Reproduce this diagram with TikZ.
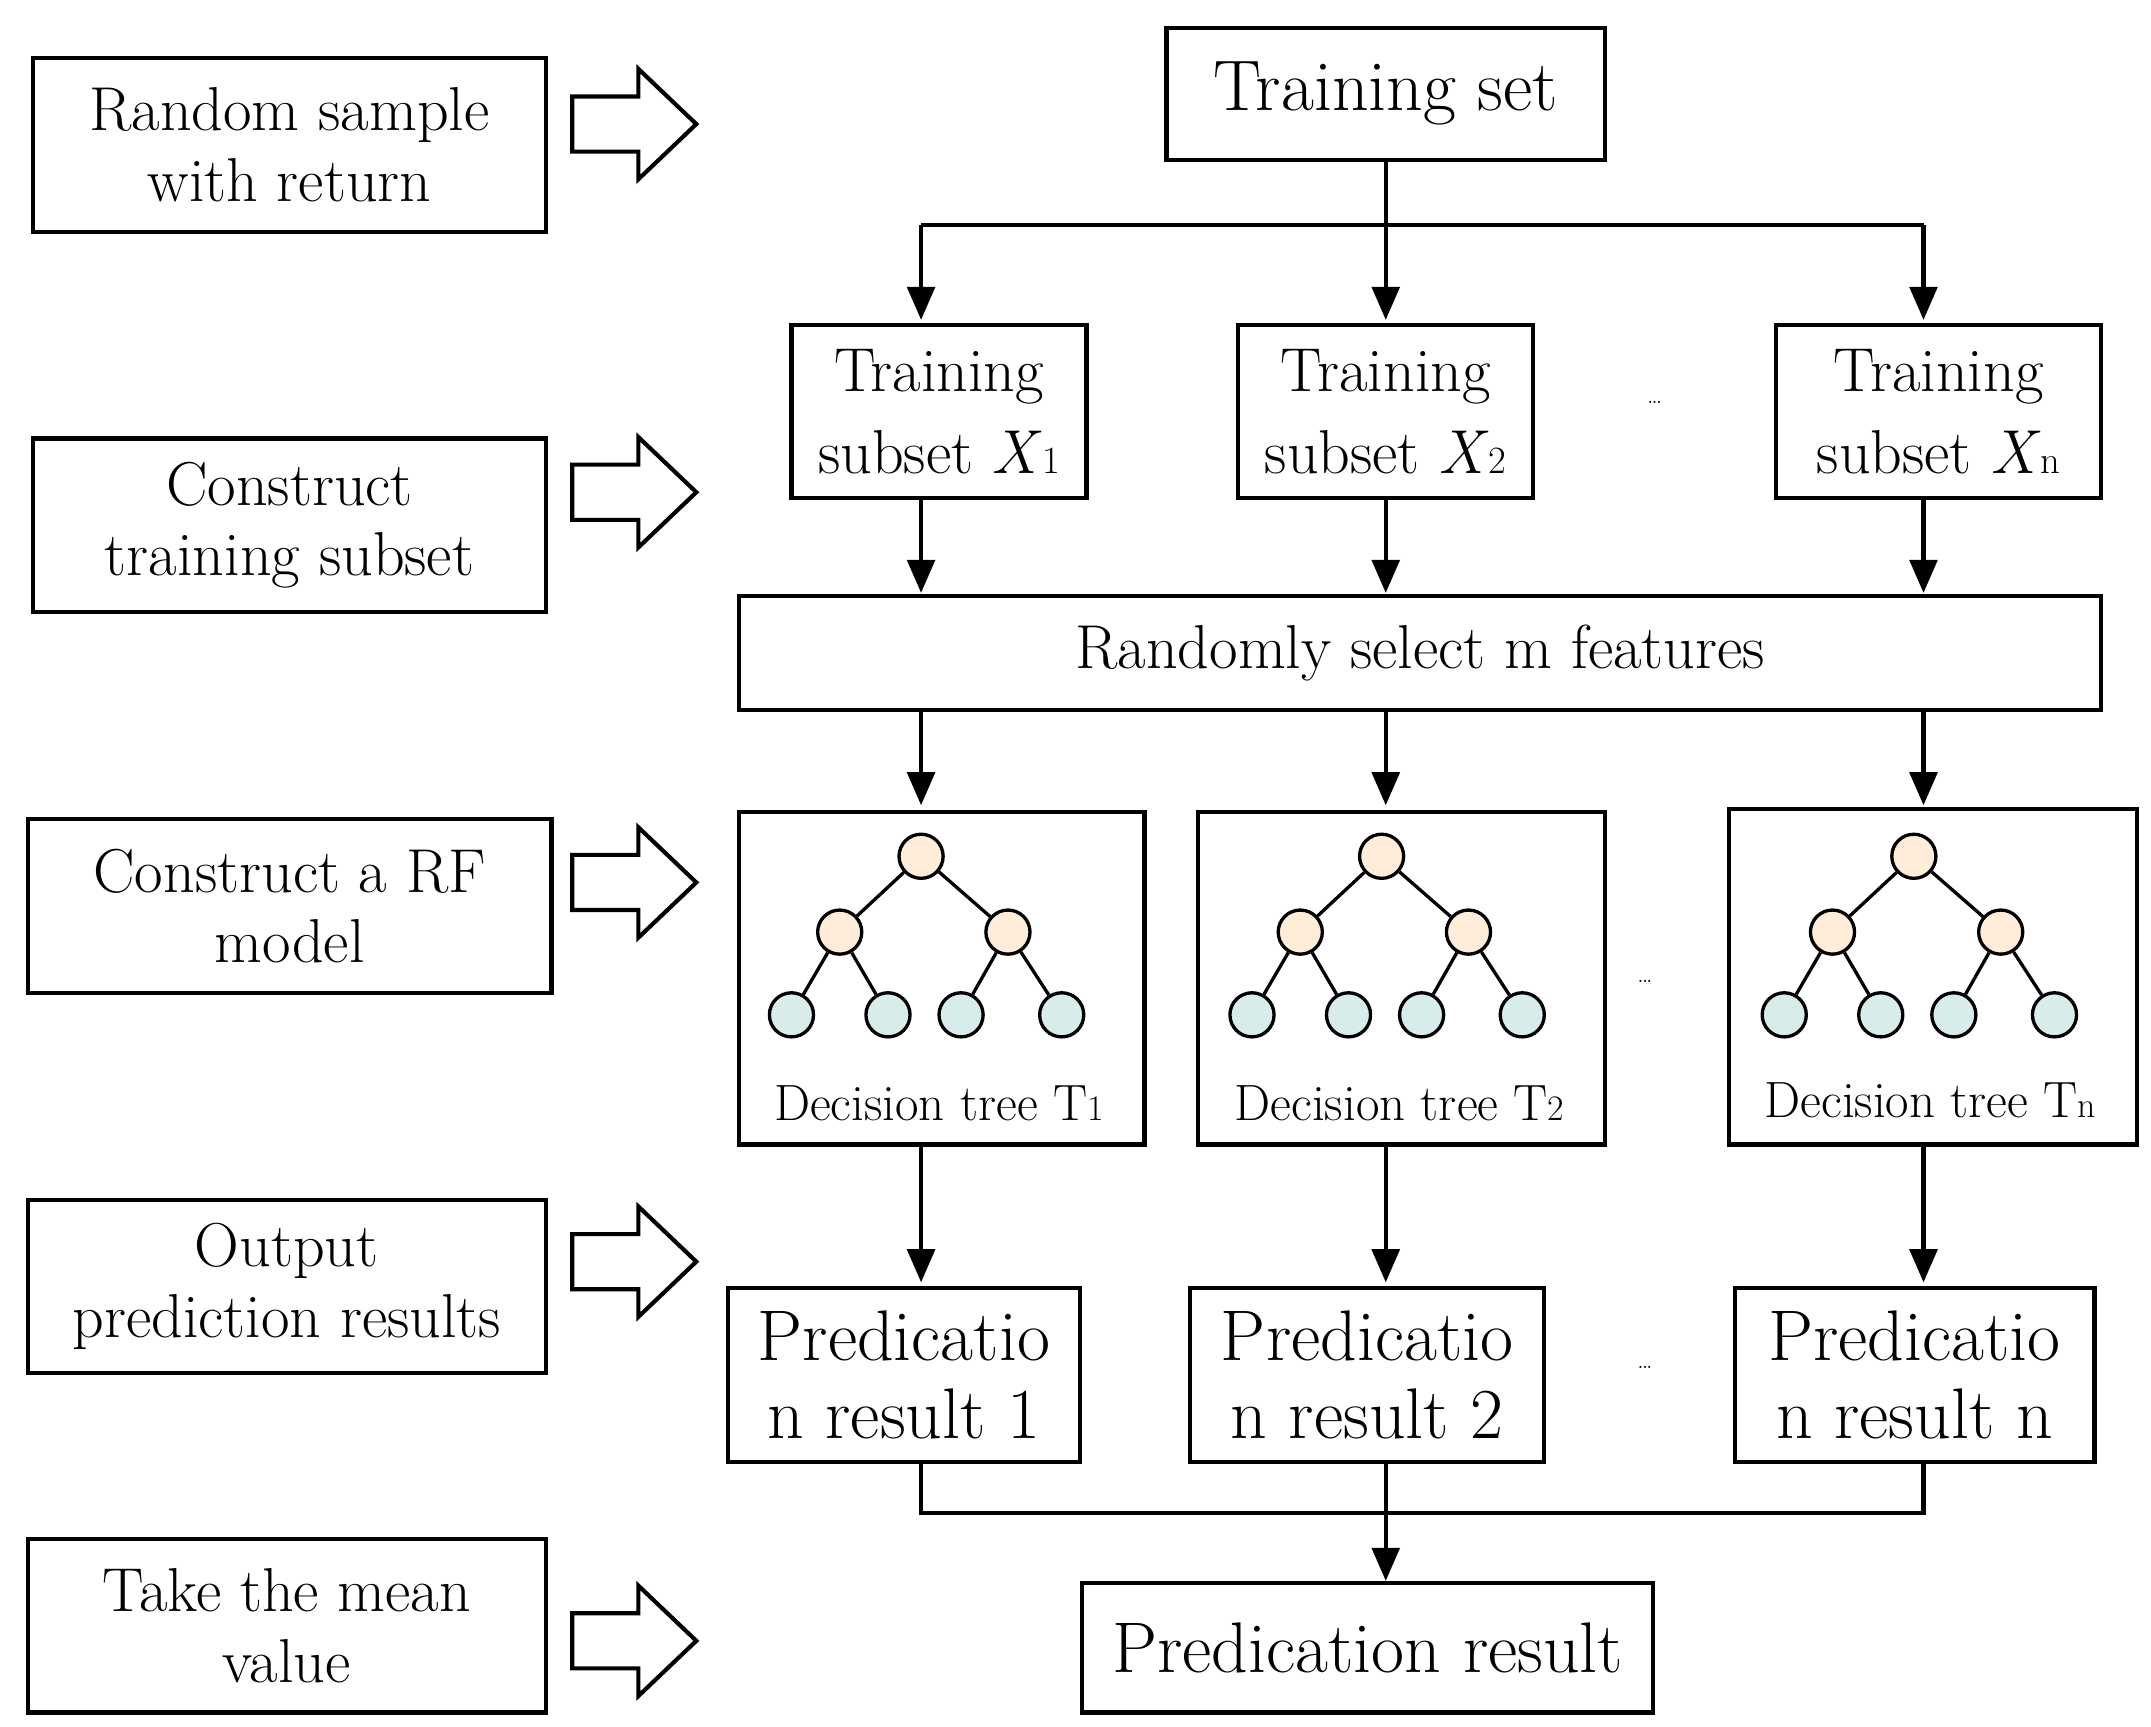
\documentclass[tikz,border=0pt]{standalone}
\usetikzlibrary{arrows.meta}
\begin{document}
\begin{tikzpicture}[x=1pt,y=-1pt,
 box/.style={draw,line width=3pt,inner sep=0pt,align=center},
 arr/.style={line width=3pt,-{Triangle[length=24pt,width=20pt]}},
 ln/.style={line width=3pt},
 inner/.style={circle,draw,line width=2.4pt,minimum size=32pt,inner sep=0pt,fill=orange!15},
 leaf/.style={circle,draw,line width=2.4pt,minimum size=32pt,inner sep=0pt,fill=teal!15},
 lt/.style={font=\fontsize{45}{51}\selectfont},
 mt/.style={font=\fontsize{45}{60}\selectfont},
 bt/.style={font=\fontsize{52}{57}\selectfont},
 tt/.style={font=\fontsize{37}{40}\selectfont}]
\useasboundingbox (0,0) rectangle (1560,1252);
\newcommand{\blk}[1]{\draw[line width=3pt,fill=white] (415,#1-20)--(463,#1-20)--(463,#1-40)--(505,#1)--(463,#1+40)--(463,#1+20)--(415,#1+20)--cycle;}
% left column
\node[box,lt,minimum width=372,minimum height=126] (l1) at (210,105) {Random sample\\with return};
\node[box,lt,minimum width=372,minimum height=126] (l2) at (210,381) {Construct\\training subset};
\node[box,lt,minimum width=380,minimum height=126] (l3) at (210,657) {Construct a RF\\model};
\node[box,lt,minimum width=376,minimum height=126] (l4) at (208,933) {Output\\prediction results};
\node[box,lt,minimum width=376,minimum height=126] (l5) at (208,1179) {Take the mean\\value};
\blk{90}\blk{357}\blk{640}\blk{915}\blk{1190}
% training set
\node[box,bt,minimum width=318,minimum height=96] (ts) at (1005,68) {Training set};
\node[box,mt,minimum width=214,minimum height=125] (s1) at (681,298.5) {Training\\subset \textit{X}{\fontsize{28}{28}\selectfont 1}};
\node[box,mt,minimum width=214,minimum height=125] (s2) at (1005,298.5) {Training\\subset \textit{X}{\fontsize{28}{28}\selectfont 2}};
\node[box,mt,minimum width=236,minimum height=125] (s3) at (1406,298.5) {Training\\subset \textit{X}{\fontsize{28}{28}\selectfont n}};
\node[lt,font=\bfseries] (d1) at (1200,292) {...};
\coordinate (b0) at (1005,163);
\coordinate (bl) at (668,163);
\coordinate (br) at (1395,163);
\draw[ln] (ts) -- (b0);
\draw[ln] (bl) -- (br);
\draw[arr] (bl) -- (668,232);
\draw[arr] (b0) -- (1005,232);
\draw[arr] (br) -- (1395,232);
\node[box,lt,minimum width=988,minimum height=83] (rs) at (1030,473.5) {Randomly select m features};
\draw[arr] (668,361) -- (668,430);
\draw[arr] (1005,361) -- (1005,430);
\draw[arr] (1395,361) -- (1395,430);
\draw[arr] (668,515) -- (668,584);
\draw[arr] (1005,515) -- (1005,584);
\draw[arr] (1395,515) -- (1395,584);
% trees
\node[box,minimum width=294,minimum height=241] (t1) at (683,709.5) {};
\node[box,minimum width=295,minimum height=241] (t2) at (1016.5,709.5) {};
\node[box,minimum width=296,minimum height=243] (t3) at (1402,708.5) {};
\foreach \n/\dx in {a/0,b/334,c/720}{
 \begin{scope}[xshift=\dx pt]
 \node[inner] (\n r) at (668,621) {};
 \node[inner] (\n l) at (609,676) {};
 \node[inner] (\n rr) at (731,676) {};
 \node[leaf] (\n 1) at (574,736) {};
 \node[leaf] (\n 2) at (644,736) {};
 \node[leaf] (\n 3) at (697,736) {};
 \node[leaf] (\n 4) at (770,736) {};
 \draw[line width=2.4pt] (\n r)--(\n l) (\n r)--(\n rr) (\n l)--(\n 1) (\n l)--(\n 2) (\n rr)--(\n 3) (\n rr)--(\n 4);
 \end{scope}}
\node[tt] at (681,800) {Decision tree T{\fontsize{26}{26}\selectfont 1}};
\node[tt] at (1015,800) {Decision tree T{\fontsize{26}{26}\selectfont 2}};
\node[tt] at (1400,798) {Decision tree T{\fontsize{26}{26}\selectfont n}};
\node[lt,font=\bfseries] (d2) at (1193,712) {...};
\draw[arr] (668,830) -- (668,930);
\draw[arr] (1005,830) -- (1005,930);
\draw[arr] (1395,830) -- (1395,930);
% predictions
\node[box,bt,minimum width=255,minimum height=126] (p1) at (655.5,997) {Predicatio\\n result 1};
\node[box,bt,minimum width=257,minimum height=126] (p2) at (991.5,997) {Predicatio\\n result 2};
\node[box,bt,minimum width=261,minimum height=126] (p3) at (1388.5,997) {Predicatio\\n result n};
\node[lt,font=\bfseries] (d3) at (1193,992) {...};
\coordinate (c1) at (668,1097);
\coordinate (c2) at (1005,1097);
\coordinate (c3) at (1395,1097);
\draw[ln] (668,1060) -- (c1) -- (c3) -- (1395,1060);
\draw[ln] (1005,1060) -- (c2);
\node[box,bt,minimum width=414,minimum height=94] (fr) at (992,1195) {Predication result};
\draw[arr] (c2) -- (fr.north -| c2);
\end{tikzpicture}
\end{document}
